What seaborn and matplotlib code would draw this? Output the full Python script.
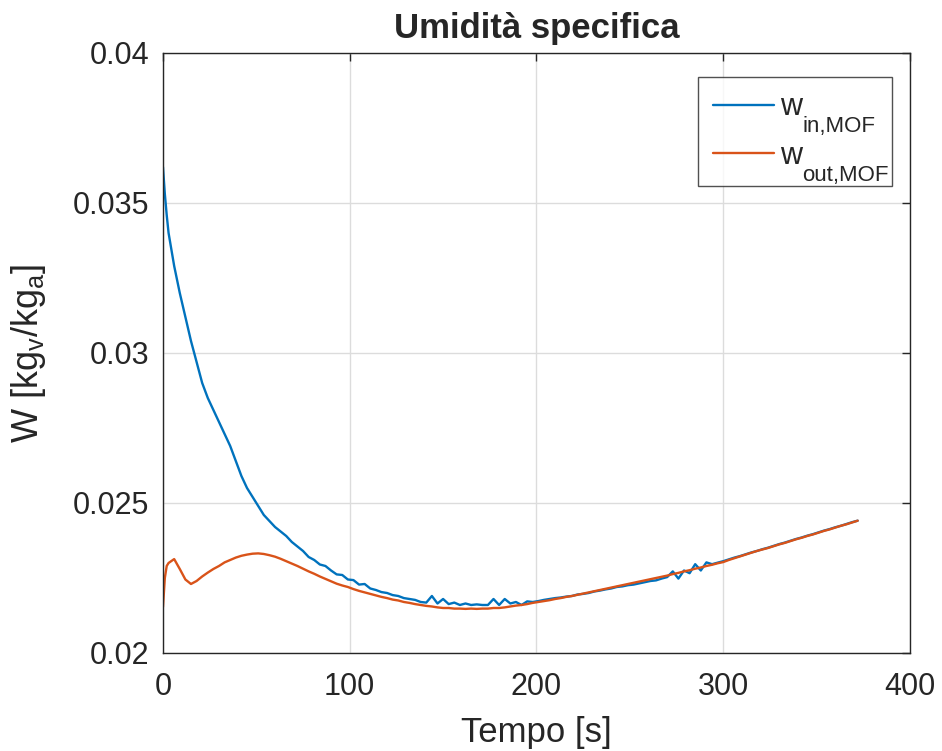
import numpy as np
import pandas as pd
import matplotlib
matplotlib.use("Agg")
import matplotlib.pyplot as plt
import seaborn as sns

# Sampling times [s]
tempo = [0, 1, 2] + list(range(3, 373, 3))

# Specific humidity at MOF inlet [kg_v/kg_a]
w_in = [
    0.0362, 0.0353, 0.0346, 0.0340, 0.0329, 0.0320, 0.0312, 0.0304, 0.0297, 0.0290,
    0.0285, 0.0281, 0.0277, 0.0273, 0.0269, 0.0264, 0.0259, 0.0255, 0.0252, 0.0249,
    0.0246, 0.0244, 0.0242, 0.02405, 0.0239, 0.0237, 0.02355, 0.0234, 0.0232, 0.0231,
    0.02295, 0.0229, 0.02275, 0.02262, 0.0226, 0.02245, 0.02243, 0.02228, 0.0223, 0.02215,
    0.0221, 0.02203, 0.0220, 0.02193, 0.0219, 0.02183, 0.0218, 0.02177, 0.0217, 0.02168,
    0.0219, 0.02165, 0.0218, 0.02163, 0.02168, 0.0216, 0.02165, 0.0216, 0.02162, 0.0216,
    0.0216, 0.0218, 0.0216, 0.0218, 0.02165, 0.0217, 0.0216, 0.02172, 0.0217, 0.02173,
    0.02177, 0.0218, 0.02183, 0.02185, 0.02188, 0.0219, 0.02195, 0.02197, 0.0220, 0.02205,
    0.02208, 0.02212, 0.02215, 0.0222, 0.02222, 0.02226, 0.02228, 0.02232, 0.02236, 0.0224,
    0.02242, 0.02248, 0.02253, 0.02272, 0.02248, 0.02275, 0.02266, 0.02296, 0.02275, 0.02302,
    0.02296, 0.02301, 0.02306, 0.02312, 0.02318, 0.02323, 0.02329, 0.02335, 0.0234, 0.02346,
    0.02351, 0.02357, 0.02363, 0.02368, 0.02374, 0.0238, 0.02385, 0.02391, 0.02396, 0.02402,
    0.02408, 0.02413, 0.02419, 0.02424, 0.0243, 0.02436, 0.02441,
]

# Specific humidity at MOF outlet [kg_v/kg_a]
w_out = [
    0.02153, 0.0225, 0.0229, 0.0230, 0.02313, 0.0228, 0.02245, 0.0223, 0.0224, 0.02255,
    0.02268, 0.0228, 0.0229, 0.02302, 0.0231, 0.02318, 0.02324, 0.02328, 0.02331, 0.02332,
    0.0233, 0.02326, 0.02321, 0.02314, 0.02306, 0.02298, 0.0229, 0.02281, 0.02272, 0.02264,
    0.02255, 0.02247, 0.02239, 0.02231, 0.02225, 0.0222, 0.02213, 0.02207, 0.02202, 0.02197,
    0.02192, 0.02187, 0.02183, 0.02178, 0.02175, 0.0217, 0.02167, 0.02163, 0.0216, 0.02157,
    0.02155, 0.02152, 0.0215, 0.0215, 0.02148, 0.02148, 0.02147, 0.02148, 0.02147, 0.02148,
    0.02148, 0.0215, 0.0215, 0.02152, 0.02155, 0.02158, 0.0216, 0.02163, 0.02167, 0.0217,
    0.02173, 0.02176, 0.0218, 0.02183, 0.02187, 0.0219, 0.02194, 0.02198, 0.02202, 0.02206,
    0.0221, 0.02214, 0.02218, 0.02222, 0.02226, 0.0223, 0.02234, 0.02238, 0.02242, 0.02246,
    0.0225, 0.02254, 0.02258, 0.02263, 0.02267, 0.02272, 0.02276, 0.02281, 0.02285, 0.0229,
    0.02294, 0.02299, 0.02303, 0.0231, 0.02316, 0.02322, 0.02328, 0.02334, 0.0234, 0.02345,
    0.0235, 0.02356, 0.02362, 0.02367, 0.02373, 0.02379, 0.02384, 0.0239, 0.02395, 0.02401,
    0.02407, 0.02412, 0.02418, 0.02424, 0.02429, 0.02435, 0.02441,
]

serie = ["in", "out"]
pedici = ["in,MOF", "out,MOF"]
colori = ["#0072BD", "#D95319"]

df = pd.concat([
    pd.DataFrame({"Tempo": tempo, "W": w_in, "serie": serie[0]}),
    pd.DataFrame({"Tempo": tempo, "W": w_out, "serie": serie[1]}),
])

sns.set_theme(style="white")
plt.rcParams["font.family"] = ["Liberation Sans", "DejaVu Sans"]
plt.rcParams["mathtext.default"] = "regular"
plt.rcParams["mathtext.fontset"] = "custom"
plt.rcParams["mathtext.rm"] = "Liberation Sans"

fig = plt.figure(figsize=(9.42, 7.51), dpi=100)
ax = fig.add_axes([0.173, 0.1305, 0.793, 0.799])

sns.lineplot(data=df, x="Tempo", y="W", hue="serie", palette=colori,
             linewidth=1.7, ax=ax, sort=False, estimator=None)

ax.set_xlim(0, 400)
ax.set_ylim(0.02, 0.04)
ax.set_xticks([0, 100, 200, 300, 400])
ax.set_yticks([0.02, 0.025, 0.03, 0.035, 0.04])
ax.set_yticklabels(["0.02", "0.025", "0.03", "0.035", "0.04"])
ax.grid(True, color="#dcdcdc", linewidth=1.0)
for s in ax.spines.values():
    s.set_color("#262626")
    s.set_linewidth(1.0)
ax.tick_params(axis="both", direction="in", length=6, width=1.0, color="#262626",
               labelsize=22, labelcolor="#262626", top=True, right=True)
ax.tick_params(axis="x", pad=14)
ax.tick_params(axis="y", pad=10)

ax.set_xlabel("Tempo [s]", fontsize=25, color="#262626", labelpad=10)
ax.set_ylabel(r"W [kg$_v$/kg$_a$]", fontsize=26, color="#262626", labelpad=18)
ax.set_title("Umidità specifica", fontsize=25, fontweight="bold", pad=11)

# Legend: main letter in the legend, subscripts added below it
handles, _ = ax.get_legend_handles_labels()
leg = ax.legend(handles, ["w", "w"], loc="upper left",
                bbox_to_anchor=(0.716, 0.96 - 0.175, 0.26, 0.175), mode="expand",
                fontsize=22, frameon=True, fancybox=False, edgecolor="#262626",
                handlelength=2.0, handletextpad=0.18, borderpad=0.5,
                labelspacing=0.62, borderaxespad=0)
leg.get_frame().set_linewidth(1.0)
for h in leg.legend_handles:
    h.set_linewidth(1.7)

for txt, p in zip(leg.get_texts(), pedici):
    ax.annotate(p, xy=(1, 0), xycoords=txt, xytext=(0.5, -7),
                textcoords="offset points", ha="left", va="baseline",
                fontsize=16, color="#262626", zorder=10, annotation_clip=False)

fig.savefig("out.png", dpi=100)
